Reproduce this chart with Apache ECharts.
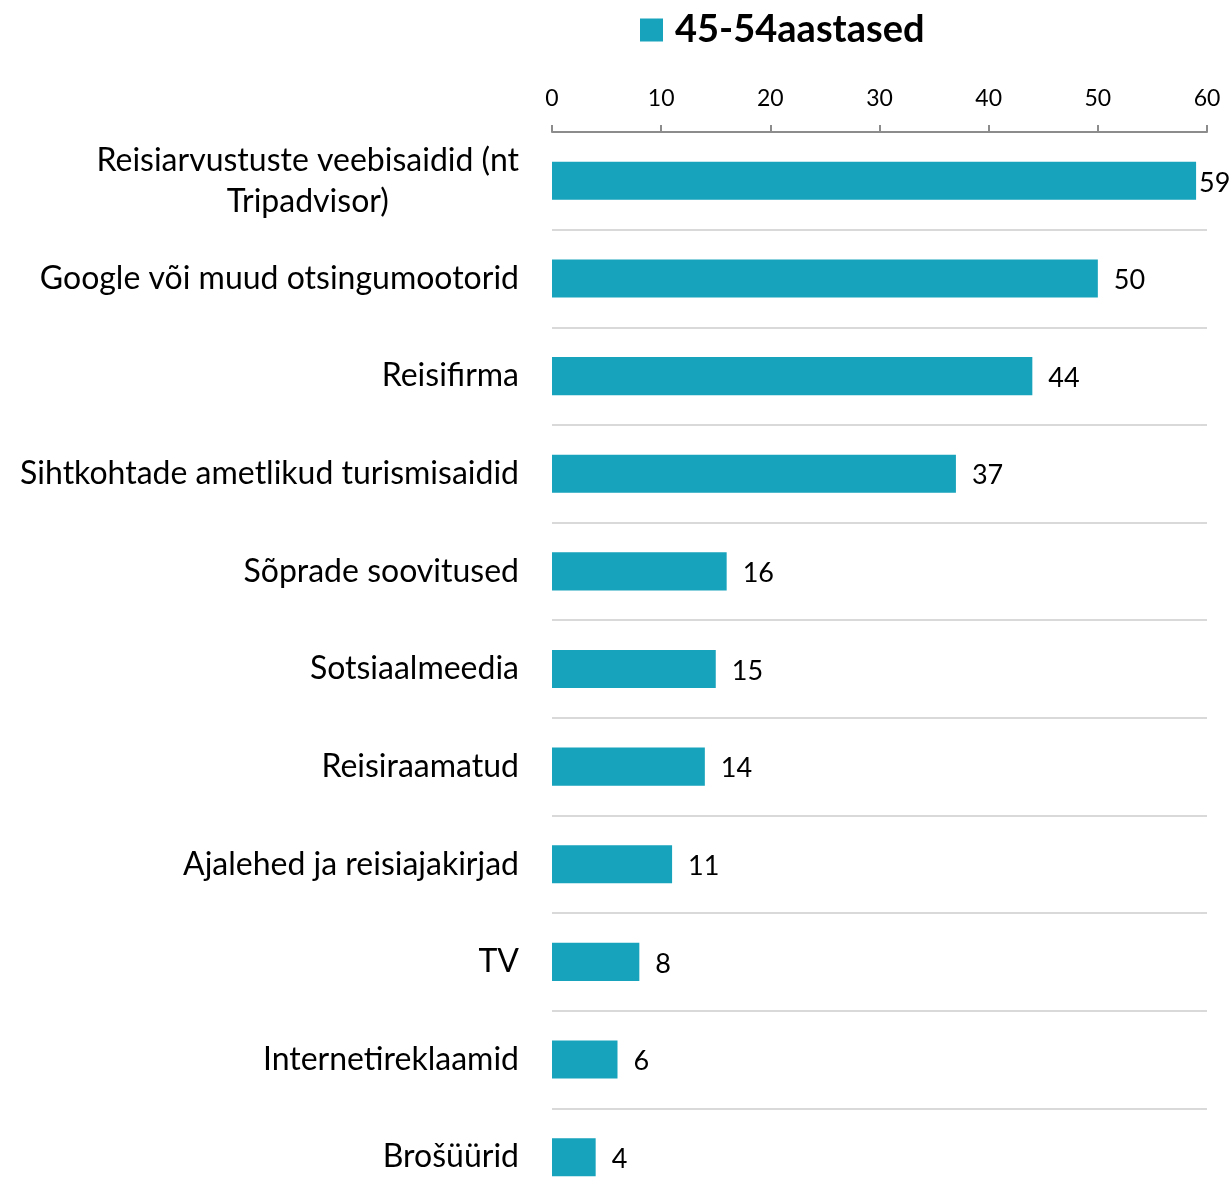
<!DOCTYPE html>
<html>
<head>
<meta charset="utf-8">
<script src="https://cdn.jsdelivr.net/npm/echarts@6/dist/echarts.min.js"></script>
<style>
  html, body { margin: 0; padding: 0; background: #fff; }
  #chart { width: 1230px; height: 1184px; }
</style>
</head>
<body>
<div id="chart"></div>
<script>
// Information sources used by 45-54 year olds (%)
const seriesName = '45-54aastased';
const categories = [
  'Reisiarvustuste veebisaidid (nt\nTripadvisor)',
  'Google või muud otsingumootorid',
  'Reisifirma',
  'Sihtkohtade ametlikud turismisaidid',
  'Sõprade soovitused',
  'Sotsiaalmeedia',
  'Reisiraamatud',
  'Ajalehed ja reisiajakirjad',
  'TV',
  'Internetireklaamid',
  'Brošüürid'
];
const values = [59, 50, 44, 37, 16, 15, 14, 11, 8, 6, 4];
const axisMin = 0, axisMax = 60, axisStep = 10;

const FONT = 'Lato, "Open Sans", sans-serif';
const BAR = '#16a3bb';

const chart = echarts.init(document.getElementById('chart'), null, { renderer: 'canvas' });

// Near the right edge the value label sits closer to its bar so it stays on the canvas
const seriesData = values.map(v => (
  v >= 58 ? { value: v, label: { distance: 3 } } : v
));

chart.setOption({
  backgroundColor: '#ffffff',
  animation: false,
  legend: {
    data: [seriesName],
    left: 640,
    top: 11,
    padding: 0,
    icon: 'rect',
    itemWidth: 23,
    itemHeight: 23,
    textStyle: {
      fontFamily: FONT,
      fontSize: 38,
      fontWeight: 'bold',
      color: '#000',
      padding: [0, 0, 0, 7]
    }
  },
  grid: {
    left: 552,
    top: 132,
    width: 655,
    height: 1074,
    containLabel: false,
    outerBoundsMode: 'none'
  },
  xAxis: {
    type: 'value',
    position: 'top',
    min: axisMin,
    max: axisMax,
    interval: axisStep,
    axisLine: { show: true, lineStyle: { color: '#8c8c8c', width: 2 } },
    axisTick: { show: true, length: 7, lineStyle: { color: '#8c8c8c', width: 2 } },
    splitLine: { show: false },
    axisLabel: {
      fontFamily: FONT,
      fontSize: 23,
      color: '#000',
      margin: 22
    }
  },
  yAxis: {
    type: 'category',
    inverse: true,
    data: categories,
    axisLine: { show: false },
    axisTick: { show: false },
    splitLine: { show: true, interval: 0, lineStyle: { color: '#d9d9d9', width: 2 } },
    axisLabel: {
      interval: 0,
      margin: 33,
      align: 'right',
      fontFamily: FONT,
      fontSize: 32,
      color: '#000',
      formatter: function (v) {
        return v.split('\n').map(s => '{c|' + s + '}').join('\n');
      },
      rich: {
        c: {
          align: 'center',
          fontFamily: FONT,
          fontSize: 32,
          color: '#000',
          lineHeight: 41
        }
      }
    }
  },
  series: [{
    name: seriesName,
    type: 'bar',
    data: seriesData,
    barWidth: '39%',
    itemStyle: { color: BAR },
    label: {
      show: true,
      position: 'right',
      distance: 16,
      offset: [0, 2],
      fontFamily: FONT,
      fontSize: 27,
      color: '#000'
    }
  }]
});
</script>
</body>
</html>
